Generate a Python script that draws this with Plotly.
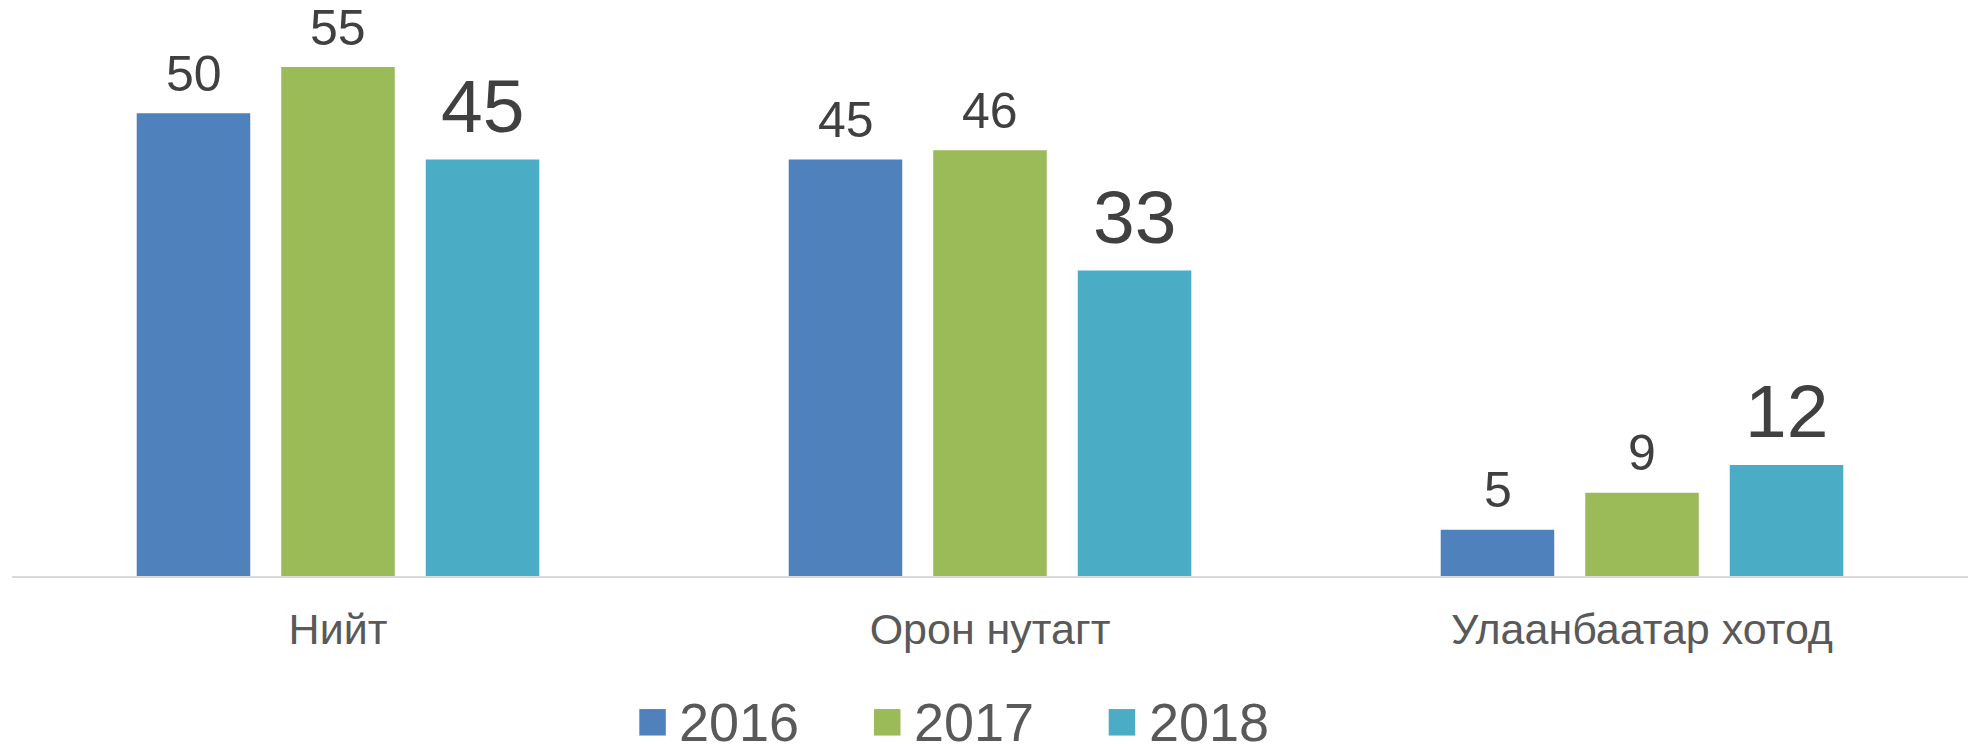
import plotly.graph_objects as go

categories = ["Нийт", "Орон нутагт", "Улаанбаатар хотод"]
series_names = ["2016", "2017", "2018"]
values_2016 = [50, 45, 5]
values_2017 = [55, 46, 9]
values_2018 = [45, 33, 12]
series_values = [values_2016, values_2017, values_2018]
colors = ["#4F81BD", "#9BBB59", "#4BACC6"]
label_sizes = [50, 50, 75]

W, H = 1983, 744
ML, MR, MT, MB = 12, 15, 0, 168
FONT = "Arial, 'Liberation Sans', sans-serif"
PX_PER_UNIT = 9.254
plot_h = H - MT - MB
plot_w = W - ML - MR
BAR_SLOT_PX = 144.5   # bar width + gap between bars in a group
LABEL_LIFT = 9.5

fig = go.Figure()
for si, (name, vals, col, ls) in enumerate(zip(series_names, series_values, colors, label_sizes)):
    fig.add_trace(go.Bar(
        x=categories, y=vals, name=name,
        marker=dict(color=col, line=dict(width=0)),
        showlegend=False, hoverinfo="x+y+name",
    ))
    for cat, v in zip(categories, vals):
        fig.add_annotation(
            x=cat, y=v, xref="x", yref="y", text=str(v), showarrow=False,
            xanchor="center", yanchor="bottom",
            xshift=(si - 1) * BAR_SLOT_PX, yshift=LABEL_LIFT,
            font=dict(family=FONT, size=ls, color="#404040"),
        )

# custom legend (large square swatches)
leg_x0, leg_step, sw = 639.3, 234.7, 26.5
leg_yc = 722.3
for i, (name, col) in enumerate(zip(series_names, colors)):
    px = leg_x0 + i * leg_step
    fig.add_shape(type="rect", xref="paper", yref="paper",
                  x0=(px - ML) / plot_w, x1=(px + sw - ML) / plot_w,
                  y0=(H - MB - (leg_yc + sw / 2)) / plot_h,
                  y1=(H - MB - (leg_yc - sw / 2)) / plot_h,
                  fillcolor=col, line=dict(width=0))
    fig.add_annotation(text=name, xref="paper", yref="paper",
                       x=(px + 38 - ML) / plot_w, y=(H - MB - leg_yc) / plot_h,
                       xanchor="left", yanchor="middle", showarrow=False,
                       font=dict(family=FONT, size=54, color="#595959"))

fig.update_layout(
    width=W, height=H,
    margin=dict(l=ML, r=MR, t=MT, b=MB, pad=0),
    barmode="group", bargap=0.335, bargroupgap=0.2145,
    plot_bgcolor="white", paper_bgcolor="white",
    font=dict(family=FONT),
)
fig.update_xaxes(
    showline=True, linecolor="#D9D9D9", linewidth=2,
    showgrid=False, ticks="", automargin=False,
    tickfont=dict(family=FONT, size=43, color="#595959"),
    ticklabelstandoff=14,
)
fig.update_yaxes(
    range=[0, plot_h / PX_PER_UNIT], visible=False, showgrid=False,
    zeroline=False, automargin=False,
)

fig.write_html(
    "out.html",
    config={"displayModeBar": False},
    post_script="document.body.style.margin='0';document.body.style.padding='0';document.body.style.overflow='hidden';",
)
